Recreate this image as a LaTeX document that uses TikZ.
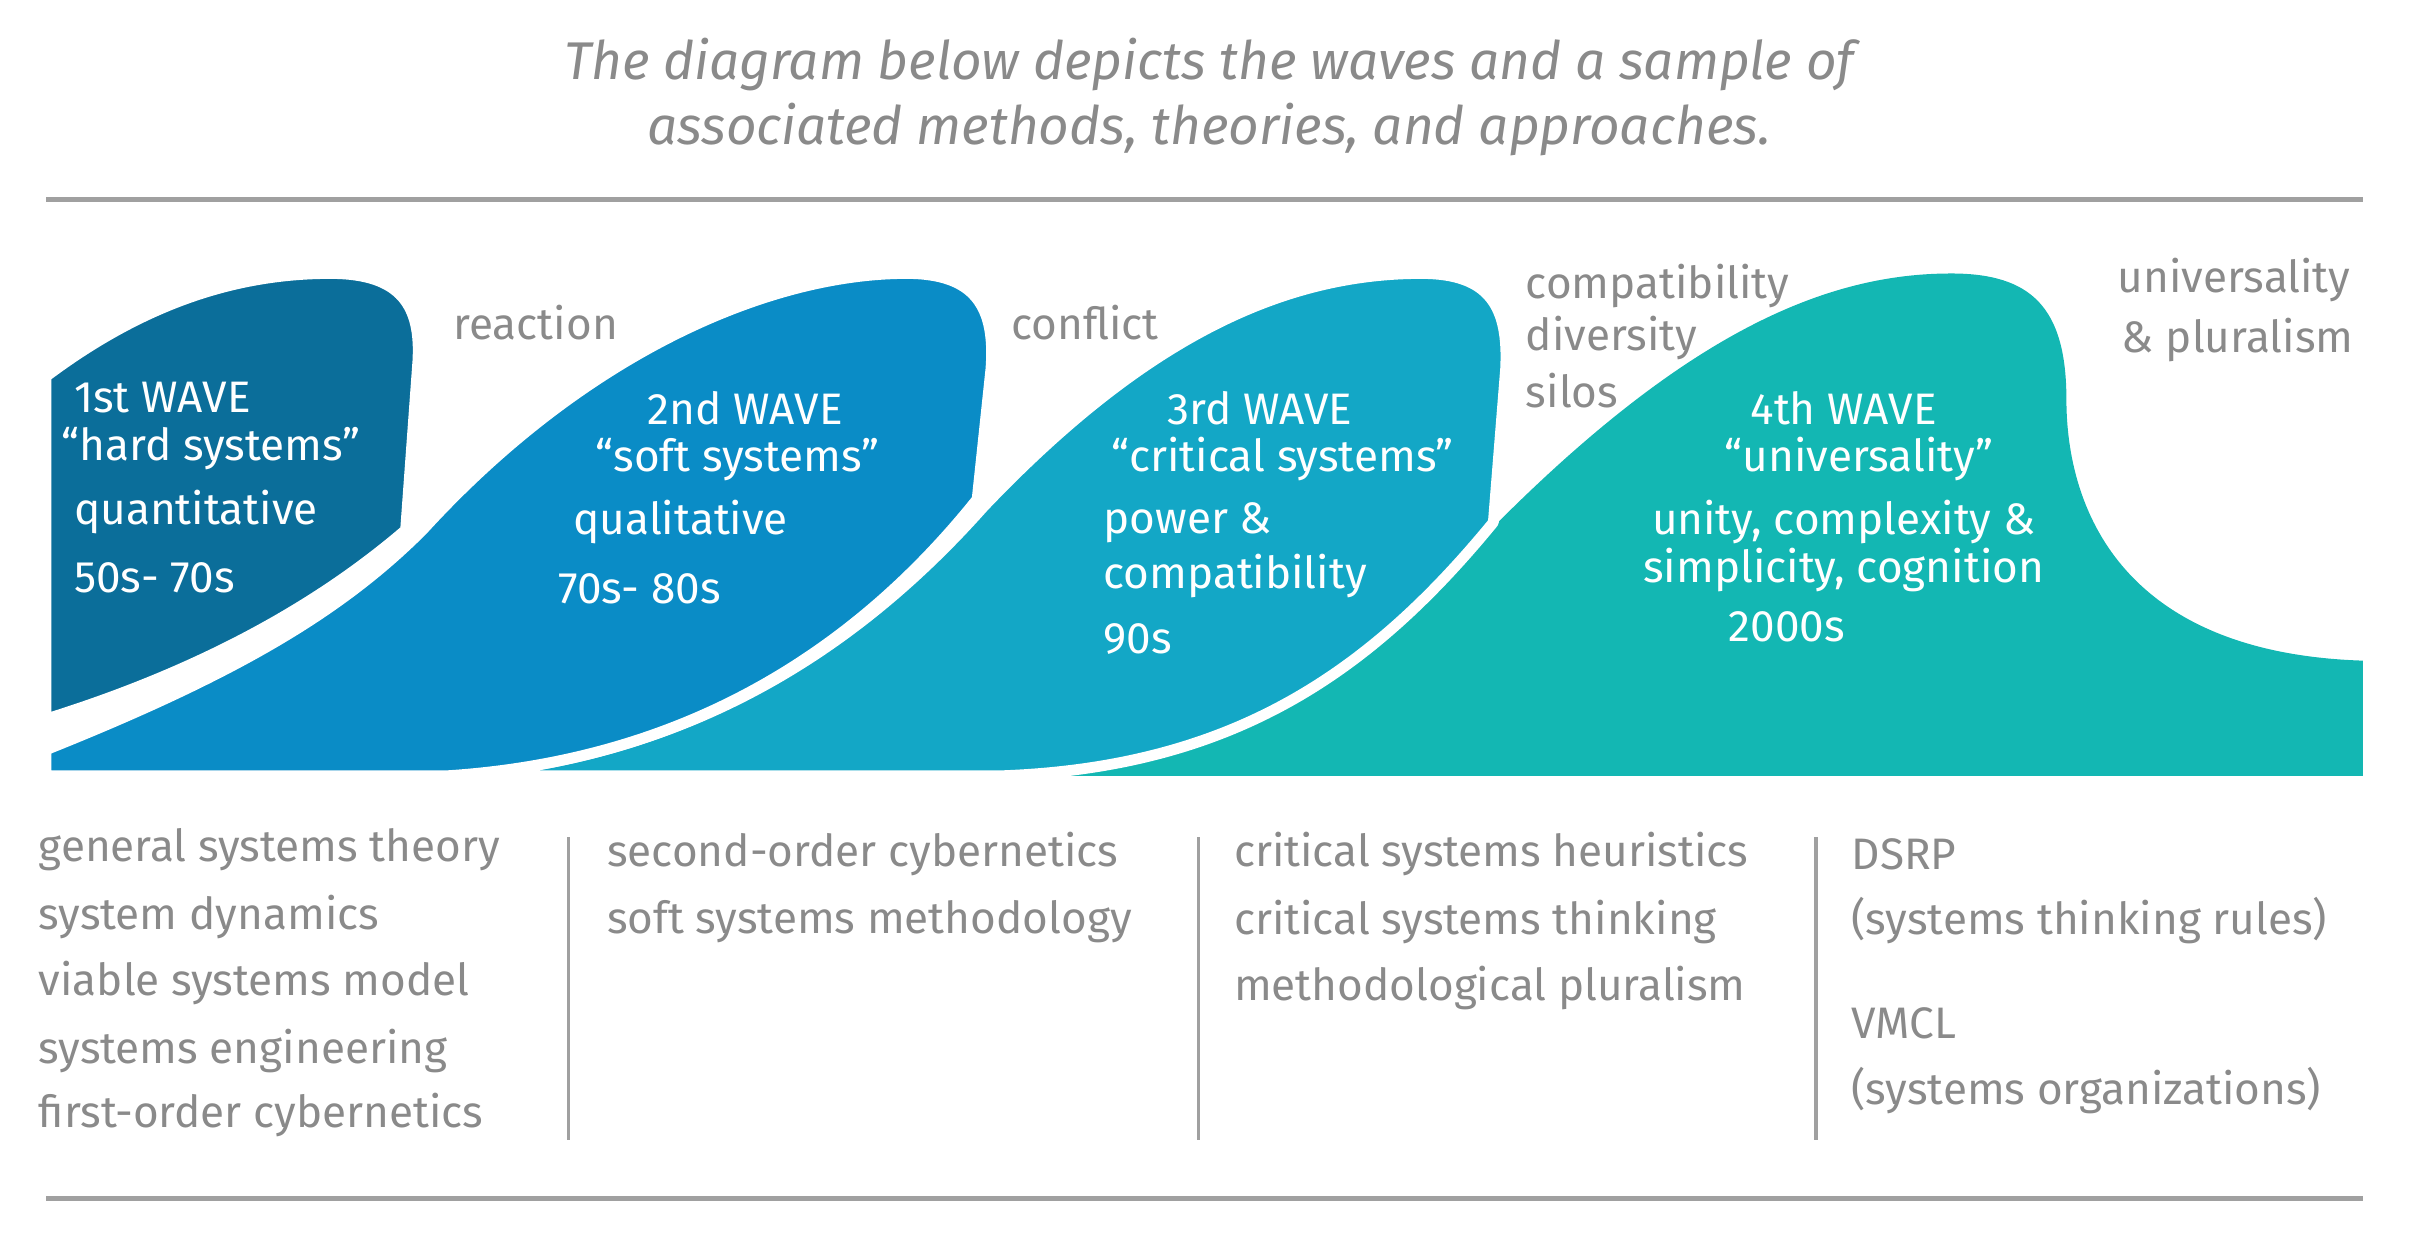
\documentclass[tikz,border=0pt]{standalone}
\usepackage{fontspec}
\setmainfont{Fira Sans}
\definecolor{wA}{HTML}{0B6E9A}
\definecolor{wB}{HTML}{0A8CC6}
\definecolor{wC}{HTML}{13A7C6}
\definecolor{wD}{HTML}{13B7B3}
\definecolor{txg}{HTML}{8A8A8A}
\definecolor{lng}{HTML}{A0A0A0}
\tikzset{
  wave/.style={draw=white,line width=6pt,line join=round},
  wt/.style={text=white,font=\fontsize{24.5}{27}\selectfont,inner sep=0pt},
  gt/.style={text=txg,font=\fontsize{24.5}{27}\selectfont,inner sep=0pt},
  tt/.style={text=txg,font=\itshape\fontsize{29.5}{32}\selectfont,inner sep=0pt},
  rule/.style={draw=lng,line width=2.5pt},
  sep/.style={draw=lng,line width=2pt}
}
\begin{document}
\begin{tikzpicture}[x=0.03cm,y=-0.03cm]
\useasboundingbox (0,0) rectangle (1568,805);
% waves
\fill[wD] (650,505) .. controls (800,500) and (900,430) .. (975,340) .. controls (1100,215) and (1190,178) .. (1270,178) .. controls (1322,178) and (1345,200) .. (1345,260) .. controls (1345,330) and (1380,425) .. (1538,430) -- (1538,505) -- cycle;
\filldraw[wave,fill=wC] (290,505) .. controls (450,495) and (560,420) .. (640,330) .. controls (740,225) and (830,178) .. (925,178) .. controls (970,178) and (982,200) .. (980,240) -- (972,340) .. controls (890,440) and (800,500) .. (650,505) -- cycle;
\filldraw[wave,fill=wB] (30,505) -- (30,488) .. controls (150,440) and (220,400) .. (275,345) .. controls (380,230) and (500,178) .. (590,178) .. controls (635,178) and (648,200) .. (645,240) -- (636,325) .. controls (560,420) and (450,495) .. (290,505) -- cycle;
\filldraw[wave,fill=wA] (30,468) -- (30,245) .. controls (90,200) and (150,178) .. (215,178) .. controls (262,178) and (274,200) .. (272,235) -- (264,345) .. controls (200,400) and (120,440) .. (30,468) -- cycle;
\fill[white] (0,505) rectangle (1568,515);
\fill[white] (0,150) rectangle (30,520);
% rules
\draw[rule] (30,130) coordinate (t1) -- (1538,130) coordinate (t2);
\draw[rule] (30,780) coordinate (b1) -- (1538,780) coordinate (b2);
% title
\node[tt] (ti1) at (787,42) {The diagram below depicts the waves and a sample of};
\node[tt] (ti2) at (787,84) {associated methods, theories, and approaches.};
% wave 1 text
\node[wt,anchor=west] (a1) at (48,259) {1st WAVE};
\node[wt,anchor=west] (a2) at (40,292) {“hard systems”};
\node[wt,anchor=west] (a3) at (48,333) {quantitative};
\node[wt,anchor=west] (a4) at (48,376) {50s- 70s};
% wave 2
\node[wt] (b1n) at (485,266) {2nd WAVE};
\node[wt] (b2n) at (480,299) {“soft systems”};
\node[wt,anchor=west] (b3n) at (373,340) {qualitative};
\node[wt,anchor=west] (b4n) at (363,383) {70s- 80s};
% wave 3
\node[wt] (c1) at (820,266) {3rd WAVE};
\node[wt] (c2) at (835,299) {“critical systems”};
\node[wt,anchor=west] (c3) at (718,340) {power \&};
\node[wt,anchor=west] (c4) at (718,375) {compatibility};
\node[wt,anchor=west] (c5) at (718,416) {90s};
% wave 4
\node[wt] (d1) at (1200,266) {4th WAVE};
\node[wt] (d2) at (1210,299) {“universality”};
\node[wt] (d3) at (1200,340) {unity, complexity \&};
\node[wt] (d4) at (1200,371) {simplicity, cognition};
\node[wt] (d5) at (1163,408) {2000s};
% gray labels
\node[gt,anchor=west] (g1) at (295,210) {reaction};
\node[gt,anchor=west] (g2) at (658,210) {conflict};
\node[gt,anchor=west] (g3) at (993,186) {compatibility};
\node[gt,anchor=west] (g4) at (993,220) {diversity};
\node[gt,anchor=west] (g5) at (993,254) {silos};
\node[gt,anchor=east] (g6) at (1530,182) {universality};
\node[gt,anchor=east] (g7) at (1532,221) {\& pluralism};
% columns
\node[gt,anchor=west] (k1) at (25,553) {general systems theory};
\node[gt,anchor=west] (k2) at (25,597) {system dynamics};
\node[gt,anchor=west] (k3) at (25,640) {viable systems model};
\node[gt,anchor=west] (k4) at (25,684) {systems engineering};
\node[gt,anchor=west] (k5) at (25,726) {first-order cybernetics};
\node[gt,anchor=west] (m1) at (395,556) {second-order cybernetics};
\node[gt,anchor=west] (m2) at (395,600) {soft systems methodology};
\node[gt,anchor=west] (n1) at (803,556) {critical systems heuristics};
\node[gt,anchor=west] (n2) at (803,600) {critical systems thinking};
\node[gt,anchor=west] (n3) at (803,643) {methodological pluralism};
\node[gt,anchor=west] (p1) at (1205,556) {DSRP};
\node[gt,anchor=west] (p2) at (1205,599) {(systems thinking rules)};
\node[gt,anchor=west] (p3) at (1205,666) {VMCL};
\node[gt,anchor=west] (p4) at (1205,710) {(systems organizations)};
\draw[sep] (370,545) coordinate (s1a) -- (370,742) coordinate (s1b);
\draw[sep] (780,545) coordinate (s2a) -- (780,742) coordinate (s2b);
\draw[sep] (1182,545) coordinate (s3a) -- (1182,742) coordinate (s3b);
\end{tikzpicture}
\end{document}
